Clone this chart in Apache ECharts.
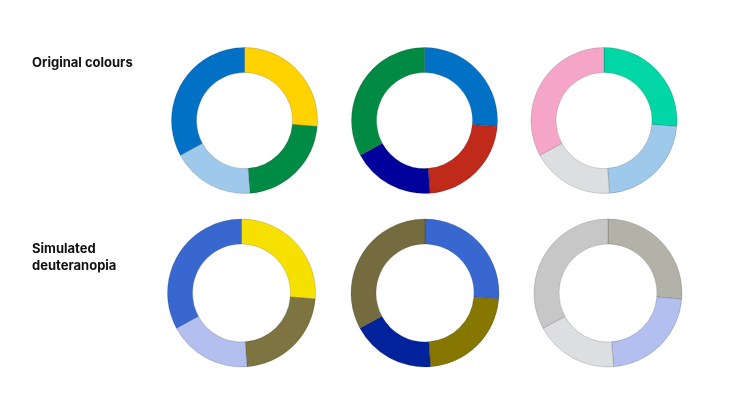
<!DOCTYPE html>
<html>
<head>
<meta charset="utf-8">
<script src="https://cdn.jsdelivr.net/npm/echarts@6/dist/echarts.min.js"></script>
<style>
  html, body { margin: 0; padding: 0; background: #fff; }
  #chart { width: 735px; height: 413px; }
</style>
</head>
<body>
<div id="chart"></div>
<script>
var chart = echarts.init(document.getElementById('chart'));

// same shares in every ring, clockwise from 12 o'clock
var sliceNames = ['A', 'B', 'C', 'D'];
var sliceValues = [26.3, 22.5, 18.3, 32.9];

var rowLabels = ['Original colours', 'Simulated\ndeuteranopia'];

// one palette per ring: top row original, bottom row simulated
var originalColours = [
    ['#ffd200', '#008b45', '#9fc9eb', '#0071c5'],
    ['#0071c5', '#bf2a1b', '#00009a', '#008a44'],
    ['#00d6a6', '#9fc9eb', '#dddee0', '#f5a6c8']
];
var simulatedColours = [
    ['#f5e000', '#7d7442', '#b3bfee', '#3868cf'],
    ['#3868cf', '#857700', '#00229b', '#746b3e'],
    ['#b3b2a8', '#b3bfee', '#dddee0', '#c7c7c7']
];

var topCentres = [[244.5, 120.5], [424.5, 120.5], [604, 120.5]];
var bottomCentres = [[241.5, 293], [425, 293], [608, 293]];

function ring(colours, centre, radius) {
    return {
        type: 'pie',
        center: centre,
        radius: radius,
        startAngle: 90,
        clockwise: true,
        silent: true,
        label: { show: false },
        labelLine: { show: false },
        data: sliceValues.map(function (v, i) {
            return {
                name: sliceNames[i],
                value: v,
                itemStyle: {
                    color: colours[i],
                    borderColor: 'rgba(0,0,0,0.25)',
                    borderWidth: 0.6
                }
            };
        })
    };
}

var series = [];
originalColours.forEach(function (c, i) {
    series.push(ring(c, topCentres[i], [48, 73]));
});
simulatedColours.forEach(function (c, i) {
    series.push(ring(c, bottomCentres[i], [49, 74]));
});

var labelStyle = {
    fontFamily: 'Inter',
    fontWeight: 'bold',
    fontSize: 13,
    color: '#111',
    lineHeight: 17
};

var option = {
    animation: false,
    title: [
        { text: rowLabels[0], left: 32, top: 55, padding: 0, textStyle: labelStyle },
        { text: rowLabels[1], left: 32, top: 241, padding: 0, textStyle: labelStyle }
    ],
    series: series
};

chart.setOption(option);
</script>
</body>
</html>
